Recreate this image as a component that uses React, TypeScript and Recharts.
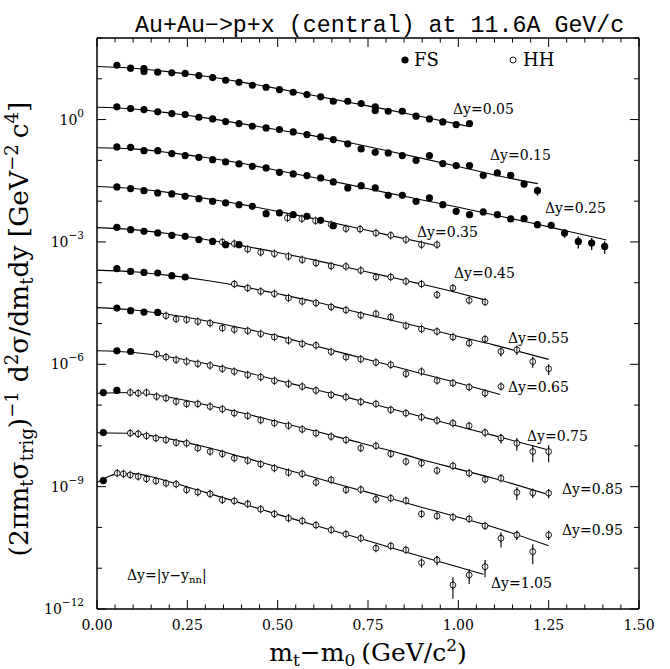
import React from "react";
import { ComposedChart, Line, Scatter, XAxis, YAxis, ErrorBar } from "recharts";

// ---- axis ticks ----
const xTicks = [0, 0.05, 0.1, 0.15, 0.2, 0.25, 0.3, 0.35, 0.4, 0.45, 0.5, 0.55, 0.6, 0.65, 0.7, 0.75, 0.8, 0.85, 0.9, 0.95, 1.0, 1.05, 1.1, 1.15, 1.2, 1.25, 1.3, 1.35, 1.4, 1.45, 1.5];
const xLabelTicks = [0, 0.25, 0.5, 0.75, 1.0, 1.25, 1.5];
const yTicks = [1e-12, 1e-11, 1e-10, 1e-9, 1e-8, 1e-7, 1e-6, 1e-5, 1e-4, 1e-3, 1e-2, 1e-1, 1, 10, 100];
const yLabelExps = [0, -3, -6, -9, -12];

// ---- rapidity bin labels ----
const binLabels = ["Δy=0.05", "Δy=0.15", "Δy=0.25", "Δy=0.35", "Δy=0.45", "Δy=0.55", "Δy=0.65", "Δy=0.75", "Δy=0.85", "Δy=0.95", "Δy=1.05"];

// ---- data: [mt-m0, value, error?] ----
const s0FS = [[0.055, 21.5], [0.093, 18.2], [0.13, 17.8], [0.13, 15.1], [0.168, 14.5], [0.207, 14.0], [0.244, 13.5], [0.282, 12.0], [0.32, 10.7], [0.356, 9.2], [0.393, 8.2], [0.43, 6.95], [0.468, 6.2], [0.505, 5.45], [0.543, 4.68], [0.581, 4.1], [0.619, 3.61], [0.654, 2.81], [0.694, 2.81], [0.731, 2.47], [0.77, 2.05], [0.77, 1.67], [0.806, 1.6], [0.845, 1.6], [0.883, 1.21], [0.92, 1.04], [0.957, 0.877], [0.994, 0.753], [1.031, 0.798]];
const fit0 = [[0, 20.0], [0.1, 18.2], [0.2, 14.8], [0.3, 11.5], [0.4, 8.3], [0.5, 5.75], [0.6, 3.89], [0.7, 2.63], [0.8, 1.78], [0.9, 1.17], [1.025, 0.69]];

const s1FS = [[0.055, 2.05], [0.093, 1.86], [0.13, 1.76], [0.168, 1.55], [0.207, 1.4], [0.244, 1.33], [0.282, 1.14], [0.32, 1.04], [0.356, 0.893], [0.393, 0.798], [0.43, 0.686], [0.468, 0.625], [0.505, 0.569], [0.543, 0.499], [0.581, 0.429], [0.619, 0.376], [0.654, 0.323], [0.694, 0.254], [0.731, 0.191], [0.77, 0.157], [0.806, 0.152], [0.845, 0.131], [0.883, 0.1], [0.92, 0.131], [0.957, 0.0832], [0.994, 0.0743], [1.031, 0.0743], [1.069, 0.043], [1.108, 0.0492], [1.145, 0.043], [1.182, 0.0264, 0.005], [1.219, 0.0181, 0.0045]];
const fit1 = [[0, 2.0], [0.1, 1.82], [0.2, 1.45], [0.3, 1.1], [0.4, 0.794], [0.5, 0.562], [0.6, 0.398], [0.7, 0.269], [0.8, 0.174], [0.9, 0.112], [1.0, 0.0708], [1.1, 0.0437], [1.22, 0.0269]];

const s2FS = [[0.055, 0.214], [0.093, 0.209], [0.13, 0.173], [0.168, 0.173], [0.207, 0.147], [0.244, 0.131], [0.282, 0.119], [0.32, 0.104], [0.356, 0.0916], [0.393, 0.0818], [0.43, 0.0714], [0.468, 0.0653], [0.505, 0.0509], [0.543, 0.0466], [0.581, 0.0423], [0.619, 0.0371], [0.654, 0.0296], [0.694, 0.0211], [0.731, 0.024], [0.77, 0.0211], [0.806, 0.0139], [0.845, 0.0139], [0.883, 0.00989], [0.92, 0.012], [0.957, 0.0082], [0.994, 0.00562], [1.031, 0.00467], [1.069, 0.00543], [1.108, 0.00467], [1.145, 0.00366], [1.182, 0.00372], [1.219, 0.00265], [1.257, 0.00255], [1.294, 0.00166, 0.0004], [1.332, 0.00103, 0.00034], [1.369, 0.000942, 0.00031], [1.405, 0.000776, 0.00026]];
const fit2 = [[0, 0.204], [0.1, 0.191], [0.2, 0.155], [0.3, 0.117], [0.4, 0.0851], [0.5, 0.0562], [0.6, 0.038], [0.7, 0.0251], [0.8, 0.0162], [0.9, 0.0107], [1.0, 0.00708], [1.1, 0.00457], [1.2, 0.00295], [1.3, 0.00186], [1.41, 0.00112]];

const s3FS = [[0.055, 0.0223], [0.093, 0.0203], [0.13, 0.0181], [0.168, 0.0159], [0.207, 0.015], [0.244, 0.0131], [0.282, 0.0115], [0.32, 0.00989], [0.356, 0.00904], [0.393, 0.0082], [0.43, 0.00746], [0.468, 0.00493], [0.505, 0.00513], [0.543, 0.00467], [0.581, 0.00424], [0.619, 0.00338], [0.654, 0.00251]];
const s3HH = [[0.527, 0.00387], [0.567, 0.00372], [0.605, 0.00332], [0.648, 0.00265], [0.689, 0.00211], [0.728, 0.00206], [0.772, 0.00166], [0.813, 0.00145], [0.855, 0.00114], [0.898, 0.000857], [0.941, 0.000857]];
const fit3 = [[0, 0.0229], [0.1, 0.0204], [0.2, 0.0162], [0.3, 0.0117], [0.4, 0.00832], [0.5, 0.00562], [0.6, 0.00372], [0.7, 0.0024], [0.8, 0.00151], [0.945, 0.000794]];

const s4FS = [[0.055, 0.00228], [0.093, 0.002], [0.13, 0.00182], [0.168, 0.00166], [0.207, 0.00145], [0.244, 0.00137], [0.282, 0.00114], [0.32, 0.00103], [0.356, 0.000857], [0.393, 0.000857]];
const s4HH = [[0.347, 0.000998], [0.38, 0.000906], [0.417, 0.000664], [0.453, 0.000555], [0.491, 0.000515], [0.53, 0.000442], [0.568, 0.000366], [0.606, 0.000304], [0.648, 0.000257], [0.689, 0.000251], [0.73, 0.0002], [0.772, 0.000138], [0.813, 0.000138], [0.855, 0.000108], [0.898, 9.29e-5], [0.941, 5.08e-5], [0.985, 7.41e-5], [1.03, 3.68e-5], [1.074, 3.36e-5]];
const fit4 = [[0, 0.00224], [0.1, 0.002], [0.2, 0.00158], [0.3, 0.00115], [0.4, 0.000813], [0.5, 0.00055], [0.6, 0.000363], [0.7, 0.000229], [0.8, 0.000145], [0.9, 9.12e-5], [1.0, 5.62e-5], [1.074, 3.8e-5]];

const s5FS = [[0.055, 2.21e-4], [0.093, 1.89e-4], [0.13, 1.79e-4], [0.168, 1.73e-4], [0.207, 1.49e-4], [0.244, 1.38e-4]];
const s5HH = [[0.38, 9.29e-5], [0.417, 7.41e-5], [0.453, 6.12e-5], [0.491, 5.37e-5], [0.53, 4.22e-5], [0.568, 3.48e-5], [0.606, 3.18e-5], [0.648, 2.54e-5], [0.689, 2.14e-5], [0.73, 1.59e-5], [0.772, 1.73e-5], [0.813, 1.44e-5], [0.855, 8.81e-6], [0.898, 7.31e-6], [0.941, 6.38e-6], [0.985, 4.65e-6], [1.03, 3.31e-6], [1.074, 4.15e-6], [1.118, 2.06e-6, 5e-7], [1.162, 2.27e-6, 5.7e-7], [1.206, 1.17e-6, 3.5e-7], [1.25, 7.76e-7, 2.3e-7]];
const fit5 = [[0, 2.04e-4], [0.1, 1.86e-4], [0.2, 1.51e-4], [0.3, 1.15e-4], [0.4, 8.13e-5], [0.5, 5.37e-5], [0.6, 3.47e-5], [0.7, 2.09e-5], [0.8, 1.29e-5], [0.9, 7.94e-6], [1.0, 4.79e-6], [1.1, 2.95e-6], [1.25, 1.32e-6]];

const s6FS = [[0.055, 2.39e-5], [0.093, 2.06e-5], [0.13, 1.91e-5], [0.168, 1.87e-5]];
const s6HH = [[0.191, 1.55e-5], [0.219, 1.29e-5], [0.248, 1.24e-5], [0.279, 1.12e-5], [0.313, 1.02e-5], [0.347, 7.73e-6], [0.38, 7.08e-6], [0.417, 6.64e-6], [0.453, 5.6e-6], [0.491, 4.65e-6], [0.53, 3.84e-6], [0.568, 3.18e-6], [0.606, 2.92e-6], [0.648, 2.03e-6], [0.689, 1.5e-6], [0.73, 1.34e-6], [0.772, 1.11e-6], [0.813, 9.72e-7], [0.855, 5.85e-7], [0.898, 6.65e-7], [0.941, 4.0e-7], [0.985, 3.46e-7], [1.03, 2.75e-7], [1.074, 1.96e-7, 4e-8], [1.118, 2.85e-7]];
const fit6 = [[0, 2.45e-5], [0.1, 2.14e-5], [0.2, 1.66e-5], [0.3, 1.17e-5], [0.4, 7.76e-6], [0.5, 4.9e-6], [0.6, 2.88e-6], [0.7, 1.7e-6], [0.8, 1.0e-6], [0.9, 5.89e-7], [1.0, 3.47e-7], [1.116, 1.82e-7]];

const s7FS = [[0.055, 2.14e-6], [0.093, 2.06e-6]];
const s7HH = [[0.165, 1.78e-6], [0.191, 1.5e-6], [0.219, 1.29e-6], [0.248, 1.17e-6], [0.279, 1.03e-6], [0.313, 9.35e-7], [0.347, 7.76e-7], [0.38, 6.65e-7], [0.417, 5.52e-7], [0.453, 4.85e-7], [0.491, 3.94e-7], [0.53, 3.32e-7], [0.568, 2.85e-7], [0.606, 2.28e-7], [0.648, 1.78e-7], [0.689, 1.57e-7], [0.73, 1.2e-7], [0.772, 1.07e-7], [0.813, 7.64e-8], [0.855, 6.34e-8], [0.898, 5.06e-8], [0.941, 4.18e-8], [0.985, 3.61e-8], [1.03, 3.1e-8], [1.074, 2.12e-8, 4e-9], [1.118, 1.55e-8, 4e-9], [1.162, 1.16e-8, 4e-9], [1.206, 7.24e-9, 3.3e-9], [1.25, 7.24e-9, 3.3e-9]];
const fit7 = [[0, 2.14e-6], [0.1, 1.95e-6], [0.2, 1.51e-6], [0.3, 1.05e-6], [0.4, 6.76e-7], [0.5, 4.07e-7], [0.6, 2.45e-7], [0.7, 1.48e-7], [0.8, 8.71e-8], [0.9, 5.13e-8], [1.0, 3.02e-8], [1.1, 1.78e-8], [1.25, 7.94e-9]];

const s8FS = [[0.0175, 2.03e-7], [0.055, 2.28e-7]];
const s8HH = [[0.092, 2.03e-7], [0.114, 1.96e-7], [0.137, 2.03e-7], [0.165, 1.62e-7], [0.191, 1.48e-7], [0.219, 1.22e-7], [0.248, 1.07e-7], [0.279, 1.07e-7], [0.313, 9.21e-8], [0.347, 7.96e-8], [0.38, 6.34e-8], [0.417, 5.45e-8], [0.453, 4.27e-8], [0.491, 3.61e-8], [0.53, 3.13e-8], [0.568, 2.54e-8], [0.606, 2.05e-8], [0.648, 1.69e-8], [0.689, 1.4e-8], [0.73, 8.79e-9], [0.772, 1.0e-8], [0.813, 6.37e-9], [0.855, 4.12e-9], [0.898, 3.76e-9], [0.941, 2.48e-9], [0.985, 3.23e-9], [1.03, 2.14e-9], [1.074, 1.51e-9], [1.118, 1.61e-9], [1.162, 7.23e-10, 2.5e-10], [1.206, 7.03e-10, 1.8e-10], [1.25, 6.9e-10, 1.7e-10]];
const fit8 = [[0, 1.95e-7], [0.1, 2.04e-7], [0.2, 1.55e-7], [0.3, 1.02e-7], [0.4, 6.46e-8], [0.5, 3.89e-8], [0.6, 2.34e-8], [0.7, 1.38e-8], [0.8, 8.13e-9], [0.9, 4.57e-9], [1.0, 2.69e-9], [1.1, 1.58e-9], [1.25, 6.31e-10]];

const s9FS = [[0.0175, 2.12e-8]];
const s9HH = [[0.092, 2.05e-8], [0.114, 1.97e-8], [0.137, 1.76e-8], [0.163, 1.55e-8], [0.191, 1.4e-8], [0.219, 1.2e-8], [0.248, 1.16e-8], [0.279, 8.79e-9], [0.313, 7.24e-9], [0.347, 6.37e-9], [0.38, 4.99e-9], [0.417, 4.36e-9], [0.453, 3.56e-9], [0.491, 2.84e-9], [0.53, 2.21e-9], [0.568, 2.06e-9], [0.606, 1.27e-9], [0.648, 1.47e-9], [0.689, 8.32e-10], [0.73, 8.47e-10], [0.772, 4.92e-10], [0.813, 5.21e-10], [0.855, 4.55e-10], [0.898, 2.14e-10], [0.941, 1.91e-10], [0.985, 1.78e-10], [1.03, 1.62e-10], [1.074, 1.09e-10], [1.118, 5.43e-11, 2.2e-11], [1.162, 6.55e-11, 1.6e-11], [1.206, 2.55e-11, 1.3e-11], [1.25, 6.55e-11, 1.6e-11]];
const fit9 = [[0, 2.09e-8], [0.1, 2.0e-8], [0.2, 1.48e-8], [0.3, 9.33e-9], [0.4, 5.37e-9], [0.5, 3.02e-9], [0.6, 1.7e-9], [0.7, 9.55e-10], [0.8, 5.5e-10], [0.9, 3.09e-10], [1.0, 1.78e-10], [1.1, 1.0e-10], [1.25, 3.55e-11]];

const s10FS = [[0.0175, 1.41e-9]];
const s10HH = [[0.056, 2.14e-9], [0.073, 2.06e-9], [0.092, 1.94e-9], [0.114, 1.77e-9], [0.137, 1.55e-9], [0.163, 1.38e-9], [0.191, 1.21e-9], [0.219, 1.15e-9], [0.248, 8.32e-10], [0.279, 7.31e-10], [0.313, 6.64e-10], [0.347, 4.73e-10], [0.38, 4.47e-10], [0.417, 3.77e-10], [0.453, 2.8e-10], [0.491, 2.14e-10], [0.53, 1.68e-10], [0.568, 1.45e-10], [0.606, 1.14e-10], [0.648, 8.69e-11], [0.689, 6.86e-11], [0.73, 5.43e-11], [0.772, 3.09e-11], [0.813, 3.52e-11], [0.855, 2.81e-11], [0.898, 1.37e-11, 3.4e-12], [0.941, 1.59e-11, 4e-12], [0.985, 3.88e-12, 2.1e-12], [1.03, 6.82e-12, 2.7e-12], [1.074, 1.09e-11, 4.9e-12]];
const fit10 = [[0, 1.26e-9], [0.03, 1.74e-9], [0.06, 2.09e-9], [0.1, 2.09e-9], [0.15, 1.74e-9], [0.2, 1.32e-9], [0.3, 7.24e-10], [0.4, 3.89e-10], [0.5, 2.09e-10], [0.6, 1.15e-10], [0.7, 6.31e-11], [0.8, 3.47e-11], [0.9, 1.91e-11], [1.0, 1.07e-11], [1.07, 7.08e-12]];

const fsSets = [s0FS, s1FS, s2FS, s3FS, s4FS, s5FS, s6FS, s7FS, s8FS, s9FS, s10FS];
const hhSets = [s3HH, s4HH, s5HH, s6HH, s7HH, s8HH, s9HH, s10HH];
const fitSets = [fit0, fit1, fit2, fit3, fit4, fit5, fit6, fit7, fit8, fit9, fit10];

// label anchor positions (pixels) for the bin labels
const binLabelPos = [[453, 114], [490, 160], [545, 213], [417, 237], [454, 278], [508, 343], [508, 392], [527, 441], [562, 494], [562, 535], [491, 588]];

const toPts = (arr: number[][]) => arr.map((d) => ({ x: d[0], y: d[1], err: d[2] ?? 0 }));
const hasErr = (arr: number[][]) => arr.some((d) => d.length > 2);

const W = 670;
const H = 669;
const M = { top: 37, right: 30, bottom: 59, left: 96 };
const SERIF = "'DejaVu Serif', serif";

const FSDot = (p: any) => {
  if (p.cx == null || p.cy == null) return <g />;
  return <circle cx={p.cx} cy={p.cy} r={3.6} fill="#000" />;
};
const HHDot = (p: any) => {
  if (p.cx == null || p.cy == null) return <g />;
  return (
    <g>
      <circle cx={p.cx} cy={p.cy} r={2.9} fill="#fff" stroke="#000" strokeWidth={0.9} />
      <line x1={p.cx} x2={p.cx} y1={p.cy - 4.2} y2={p.cy + 4.2} stroke="#000" strokeWidth={0.9} />
    </g>
  );
};

const isMajorX = (v: number) => xLabelTicks.some((t) => Math.abs(t - v) < 1e-6);
const expOf = (v: number) => Math.round(Math.log10(v));

const BottomTick = (p: any) => {
  const { x, y, payload } = p;
  const v = payload.value;
  const major = isMajorX(v);
  return (
    <g>
      <line x1={x} x2={x} y1={y} y2={y - (major ? 9 : 4.5)} stroke="#000" strokeWidth={1} />
      {major && (
        <text x={x} y={y + 21} textAnchor="middle" fontFamily={SERIF} fontSize={14} fill="#000">
          {v.toFixed(2)}
        </text>
      )}
    </g>
  );
};
const TopTick = (p: any) => {
  const { x, y, payload } = p;
  const major = isMajorX(payload.value);
  return <line x1={x} x2={x} y1={y} y2={y + (major ? 9 : 4.5)} stroke="#000" strokeWidth={1} />;
};
const LeftTick = (p: any) => {
  const { x, y, payload } = p;
  const e = expOf(payload.value);
  const labeled = yLabelExps.includes(e);
  return (
    <g>
      <line x1={x} x2={x + (labeled ? 9 : 5)} y1={y} y2={y} stroke="#000" strokeWidth={1} />
      {labeled && (
        <text x={x - 13} y={y + 5} textAnchor="end" fontFamily={SERIF} fontSize={14} fill="#000">
          10<tspan dy={-8} fontSize={10.5}>{e === 0 ? "0" : "−" + Math.abs(e)}</tspan>
        </text>
      )}
    </g>
  );
};
const RightTick = (p: any) => {
  const { x, y, payload } = p;
  const e = expOf(payload.value);
  const labeled = yLabelExps.includes(e);
  return <line x1={x} x2={x - (labeled ? 9 : 5)} y1={y} y2={y} stroke="#000" strokeWidth={1} />;
};

const axisLine = { stroke: "#000", strokeWidth: 1.5 };

export default function App() {
  return (
    <div style={{ position: "absolute", left: 0, top: 0, width: W, height: H, background: "#fff" }}>
      <ComposedChart width={W} height={H} margin={M}>
        <XAxis xAxisId="b" dataKey="x" type="number" domain={[0, 1.5]} ticks={xTicks} interval={0} height={1}
          tickSize={0} tickMargin={0} tickLine={false} axisLine={axisLine} tick={<BottomTick />} allowDataOverflow />
        <XAxis xAxisId="t" orientation="top" dataKey="x" type="number" domain={[0, 1.5]} ticks={xTicks} interval={0} height={1}
          tickSize={0} tickMargin={0} tickLine={false} axisLine={axisLine} tick={<TopTick />} allowDataOverflow />
        <YAxis yAxisId="l" dataKey="y" type="number" scale="log" domain={[1e-12, 100]} ticks={yTicks} interval={0} width={1}
          tickSize={0} tickMargin={0} tickLine={false} axisLine={axisLine} tick={<LeftTick />} allowDataOverflow />
        <YAxis yAxisId="r" orientation="right" dataKey="y" type="number" scale="log" domain={[1e-12, 100]} ticks={yTicks} interval={0} width={1}
          tickSize={0} tickMargin={0} tickLine={false} axisLine={axisLine} tick={<RightTick />} allowDataOverflow />

        {fitSets.map((f, i) => (
          <Line key={"fit" + i} xAxisId="b" yAxisId="l" data={toPts(f)} dataKey="y" type="monotone" dot={false}
            activeDot={false} stroke="#000" strokeWidth={1.1} isAnimationActive={false} />
        ))}
        {hhSets.map((s, i) => (
          <Scatter key={"hh" + i} xAxisId="b" yAxisId="l" data={toPts(s)} dataKey="y" shape={HHDot} isAnimationActive={false}>
            {hasErr(s) && <ErrorBar dataKey="err" direction="y" width={0} stroke="#000" strokeWidth={1.1} isAnimationActive={false} />}
          </Scatter>
        ))}
        {fsSets.map((s, i) => (
          <Scatter key={"fs" + i} xAxisId="b" yAxisId="l" data={toPts(s)} dataKey="y" shape={FSDot} isAnimationActive={false}>
            {hasErr(s) && <ErrorBar dataKey="err" direction="y" width={0} stroke="#000" strokeWidth={1.3} isAnimationActive={false} />}
          </Scatter>
        ))}
      </ComposedChart>

      <svg width={W} height={H} style={{ position: "absolute", left: 0, top: 0, pointerEvents: "none" }}>
        <text x={135} y={32} fontFamily="'Liberation Mono', monospace" fontSize={23.3} fill="#000">
          Au+Au−&gt;p+x (central) at 11.6A GeV/c
        </text>

        {/* legend */}
        <circle cx={405} cy={60} r={3.6} fill="#000" />
        <text x={414} y={66} fontFamily={SERIF} fontSize={18} fill="#000">FS</text>
        <circle cx={513} cy={60} r={3} fill="#fff" stroke="#000" strokeWidth={0.9} />
        <text x={523} y={66} fontFamily={SERIF} fontSize={18} fill="#000">HH</text>

        {binLabels.map((t, i) => (
          <text key={t} x={binLabelPos[i][0]} y={binLabelPos[i][1]} fontFamily={SERIF} fontSize={14} fill="#000">{t}</text>
        ))}

        <text x={127} y={580} fontFamily={SERIF} fontSize={14} fill="#000">
          Δy=|y−y<tspan dy={3} fontSize={10}>nn</tspan><tspan dy={-3}>|</tspan>
        </text>

        {/* x axis title */}
        <text x={368} y={661} textAnchor="middle" fontFamily={SERIF} fontSize={25} fill="#000">
          m<tspan dy={5} fontSize={17}>t</tspan><tspan dy={-5}>−m</tspan><tspan dy={5} fontSize={17}>0</tspan>
          <tspan dy={-5} dx={6}>(GeV/c</tspan><tspan dy={-10} fontSize={17}>2</tspan><tspan dy={10}>)</tspan>
        </text>

        {/* y axis title */}
        <text transform="rotate(-90)" x={-329} y={28} textAnchor="middle" fontFamily={SERIF} fontSize={26.5} fill="#000">
          (2πm<tspan dy={5} fontSize={18}>t</tspan><tspan dy={-5}>σ</tspan><tspan dy={5} fontSize={18}>trig</tspan>
          <tspan dy={-5}>)</tspan><tspan dy={-10} fontSize={18}>−1</tspan>
          <tspan dy={10} dx={9}>d</tspan><tspan dy={-10} fontSize={18}>2</tspan><tspan dy={10}>σ/dm</tspan>
          <tspan dy={5} fontSize={18}>t</tspan><tspan dy={-5}>dy [GeV</tspan><tspan dy={-10} fontSize={18}>−2</tspan>
          <tspan dy={10} dx={6}>c</tspan><tspan dy={-10} fontSize={18}>4</tspan><tspan dy={10}>]</tspan>
        </text>
      </svg>
    </div>
  );
}
